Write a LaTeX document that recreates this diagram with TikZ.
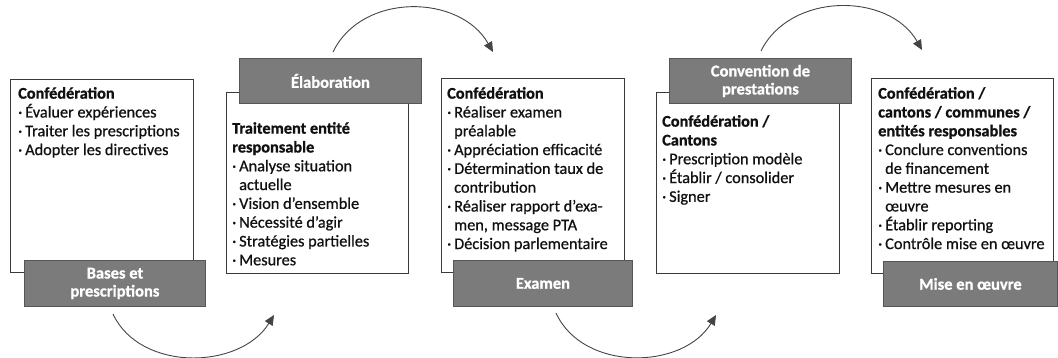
\documentclass[tikz,border=0pt]{standalone}
\usepackage{fontspec}
\setmainfont{Carlito}[FakeBold=0.7, BoldFeatures={FakeBold=0.9}]
\usetikzlibrary{arrows.meta}
\definecolor{boxline}{HTML}{3A3A3A}
\definecolor{tabfill}{HTML}{7B7B7B}
\definecolor{tabline}{HTML}{565656}
\definecolor{arrowc}{HTML}{444444}
\definecolor{ink}{HTML}{111111}
% bullet and continuation indent for the item lists
\newcommand{\bl}{\makebox[7pt][l]{·}}
\newcommand{\cn}{\hspace*{7pt}}
\begin{document}
\begin{tikzpicture}[x=1pt,y=-1pt,
  card/.style={draw=boxline, line width=0.9pt, fill=white, inner sep=0pt, anchor=north west},
  tab/.style={draw=tabline, line width=0.9pt, fill=tabfill, inner sep=0pt, anchor=north west,
    text=white, align=center, font=\fontsize{16.5}{18}\selectfont\bfseries},
  txt/.style={inner sep=0pt, anchor=north west, align=left, text=ink,
    font=\fontsize{16.3}{18.8}\selectfont},
  flow/.style={draw=arrowc, line width=0.9pt, -{Triangle[length=10pt,width=9pt]}}
]
\useasboundingbox (0,0) rectangle (1058,358);

% white content cards
\node[card, minimum width=183pt, minimum height=193pt] (c1) at (10,79) {};
\node[card, minimum width=182pt, minimum height=181pt] (c2) at (226,92) {};
\node[card, minimum width=183pt, minimum height=194pt] (c3) at (441,78) {};
\node[card, minimum width=183pt, minimum height=181pt] (c4) at (656,92) {};
\node[card, minimum width=182pt, minimum height=195pt] (c5) at (871,78) {};

% phase labels
\node[tab, minimum width=181pt, minimum height=46pt] (t1) at (24,260) {Bases et\\prescriptions};
\node[tab, minimum width=182pt, minimum height=45pt] (t2) at (239,58) {Élaboration};
\node[tab, minimum width=179pt, minimum height=46pt] (t3) at (453,260) {Examen};
\node[tab, minimum width=182pt, minimum height=45pt] (t4) at (669,58) {Convention de\\prestations};
\node[tab, minimum width=174pt, minimum height=45pt] (t5) at (883,261) {Mise en œuvre};

% card contents
\node[txt] (x1) at (18,87) {\textbf{Confédération}\\
  \bl Évaluer expériences\\
  \bl Traiter les prescriptions\\
  \bl Adopter les directives};
\node[txt] (x2) at (232,122) {\textbf{Traitement entité}\\
  \textbf{responsable}\\
  \bl Analyse situation\\
  \cn actuelle\\
  \bl Vision d’ensemble\\
  \bl Nécessité d’agir\\
  \bl Stratégies partielles\\
  \bl Mesures};
\node[txt] (x3) at (447,87) {\textbf{Confédération}\\
  \bl Réaliser examen\\
  \cn préalable\\
  \bl Appréciation efficacité\\
  \bl Détermination taux de\\
  \cn contribution\\
  \bl Réaliser rapport d’exa-\\
  \cn men, message PTA\\
  \bl Décision parlementaire};
\node[txt] (x4) at (662,115) {\textbf{Confédération /}\\
  \textbf{Cantons}\\
  \bl Prescription modèle\\
  \bl Établir / consolider\\
  \bl Signer};
\node[txt] (x5) at (878,87) {\textbf{Confédération /}\\
  \textbf{cantons / communes /}\\
  \textbf{entités responsables}\\
  \bl Conclure conventions\\
  \cn de financement\\
  \bl Mettre mesures en\\
  \cn œuvre\\
  \bl Établir reporting\\
  \bl Contrôle mise en œuvre};

% ends of the curved flow arrows
\coordinate (f1s) at (113,314); \coordinate (f1e) at (274,315);
\coordinate (f2s) at (333,52);  \coordinate (f2e) at (493,52);
\coordinate (f3s) at (556,313); \coordinate (f3e) at (716,315);
\coordinate (f4s) at (761,51);  \coordinate (f4e) at (922,50);

\draw[flow] (f1s) .. controls (140,372) and (240,370) .. (f1e);
\draw[flow] (f2s) .. controls (362,-8) and (460,-6) .. (f2e);
\draw[flow] (f3s) .. controls (583,372) and (683,370) .. (f3e);
\draw[flow] (f4s) .. controls (790,-8) and (889,-8) .. (f4e);
\end{tikzpicture}
\end{document}
